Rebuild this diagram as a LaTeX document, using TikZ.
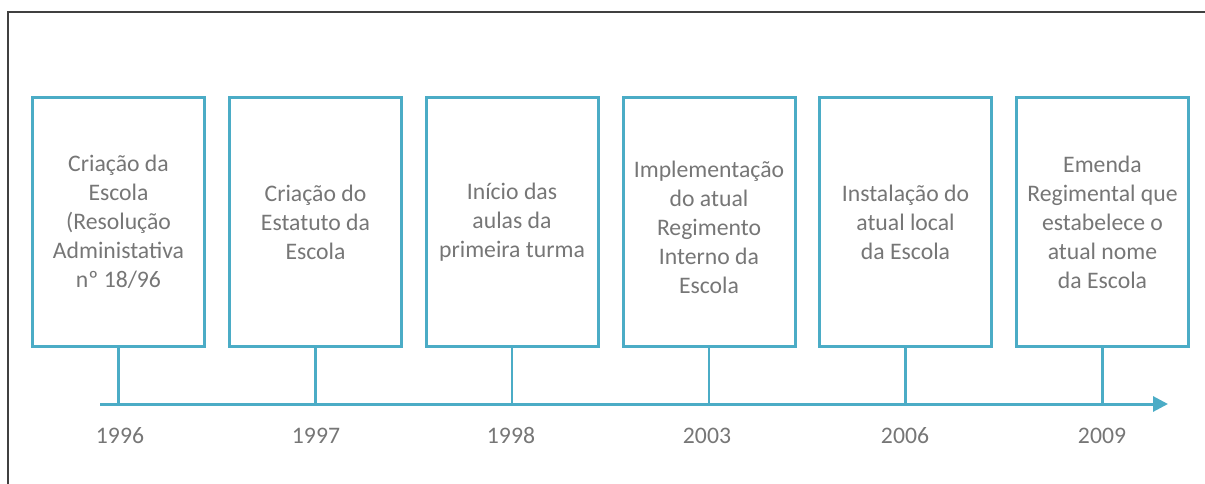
\documentclass[tikz,border=0pt]{standalone}
\usepackage{fontspec}
\setmainfont{Carlito}
\usepackage{xcolor}
\definecolor{bblue}{HTML}{4BACC6}
\definecolor{ggray}{HTML}{767676}
\definecolor{fframe}{HTML}{404040}
\usepackage{tikz}
\usetikzlibrary{arrows.meta}

\begin{document}
\begin{tikzpicture}[x=1pt,y=-1pt,
		every node/.style={text=ggray,font=\fontsize{23.7}{29}\selectfont},
		box/.style={draw=bblue,line width=3pt,minimum width=172pt,minimum height=249pt,align=center,inner sep=0pt,outer sep=0pt},
		year/.style={anchor=base}]
				\useasboundingbox (0,0) rectangle (1205,484);
				\draw[fframe,line width=2pt] (1205,12) -- (8,12) -- (8,484);
				\node[box] (b0) at (118.5,222) {Criação da\\Escola\\(Resolução\\Administativa\\nº 18/96};
				\node[box] (b1) at (315.5,222) {Criação do\\Estatuto da\\Escola};
				\node[box] (b2) at (512,222) {Início das\\aulas da\\primeira turma};
				\node[box] (b3) at (709,222) {\rule{0pt}{28pt}Implementação\\do atual\\Regimento\\Interno da\\Escola};
				\node[box] (b4) at (905.5,222) {Instalação do\\atual local\\da Escola};
				\node[box] (b5) at (1102.5,222) {Emenda\\Regimental que\\estabelece o\\atual nome\\da Escola};
				\coordinate (a0) at (100,404);
				\coordinate (a1) at (1168,404);
				\draw[bblue,line width=3pt,-{Triangle[length=15pt,width=15pt]}] (a0) -- (a1);
				\draw[bblue,line width=2.5pt] (b0.south) -- (b0.south |- a0);
				\draw[bblue,line width=2.5pt] (b1.south) -- (b1.south |- a0);
				\draw[bblue,line width=2.5pt] (b2.south) -- (b2.south |- a0);
				\draw[bblue,line width=2.5pt] (b3.south) -- (b3.south |- a0);
				\draw[bblue,line width=2.5pt] (b4.south) -- (b4.south |- a0);
				\draw[bblue,line width=2.5pt] (b5.south) -- (b5.south |- a0);
				\node[year] (y0) at (120,443) {1996};
				\node[year] (y1) at (316,443) {1997};
				\node[year] (y2) at (511,443) {1998};
				\node[year] (y3) at (707,443) {2003};
				\node[year] (y4) at (905,443) {2006};
				\node[year] (y5) at (1102,443) {2009};
			\end{tikzpicture}
\end{document}
